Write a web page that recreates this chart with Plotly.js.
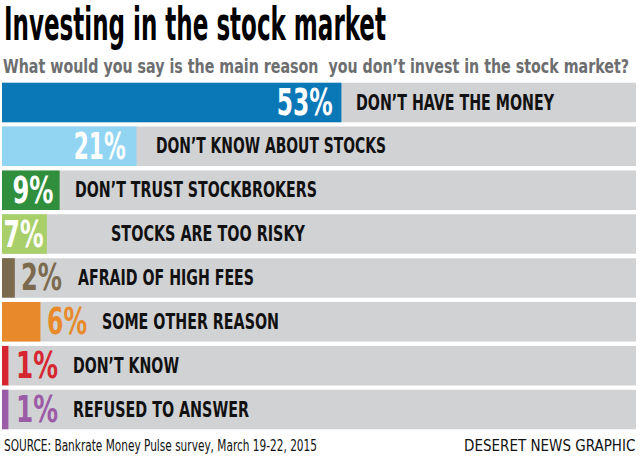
<!DOCTYPE html>
<html>
<head>
<meta charset="utf-8">
<script src="https://cdn.plot.ly/plotly-3.0.1.min.js"></script>
<style>
html,body{margin:0;padding:0;background:#fff;}
#chart{width:640px;height:457px;}
</style>
</head>
<body>
<div id="chart"></div>
<script>
// ---- data ----
const categories = [
  "DON’T HAVE THE MONEY",
  "DON’T KNOW ABOUT STOCKS",
  "DON’T TRUST STOCKBROKERS",
  "STOCKS ARE TOO RISKY",
  "AFRAID OF HIGH FEES",
  "SOME OTHER REASON",
  "DON’T KNOW",
  "REFUSED TO ANSWER"
];
const percents = [53, 21, 9, 7, 2, 6, 1, 1];
const totals = [100, 100, 100, 100, 100, 100, 100, 100];

// ---- styles / positions (not data) ----
const barColors = ["#0a77b7", "#92d5f3", "#2f8f3d", "#a9cf6a", "#7b6a4d", "#e88a2b", "#d6262f", "#9b5ba6"];
const pctColors = ["#ffffff", "#ffffff", "#ffffff", "#ffffff", "#7b6a4d", "#e88a2b", "#d6262f", "#9b5ba6"];
const pctInside = [true, true, true, true, false, false, false, false];
const pctShift = [-6, -8, -4, -1, 4, 5, 6, 6];
const pctWidth = [56, 52, 41, 40, 41, 40, 42, 42];
const labelShift = [13, 18, 13, 62, 61, 60, 63, 63];
const labelWidth = [198, 230, 242, 194, 176, 177, 106, 176];
const COND = "DejaVu Sans Condensed, Liberation Sans Narrow, Arial Narrow, sans-serif";

const bg = {
  type: "bar", orientation: "h",
  x: totals, y: categories,
  marker: {color: "#d1d2d4"},
  hoverinfo: "skip", showlegend: false
};
const fg = {
  type: "bar", orientation: "h",
  x: percents, y: categories,
  marker: {color: barColors},
  hoverinfo: "skip", showlegend: false
};

const annotations = [];
const fitWidths = [];

categories.forEach((c, i) => {
  annotations.push({
    x: percents[i], y: c, xref: "x", yref: "y",
    text: c, showarrow: false, xanchor: "left", yanchor: "middle", align: "left",
    xshift: labelShift[i], yshift: 0,
    font: {family: COND, size: 21, color: "#111111", weight: 700}
  });
  fitWidths.push(labelWidth[i]);
});

categories.forEach((c, i) => {
  annotations.push({
    x: percents[i], y: c, xref: "x", yref: "y",
    text: percents[i] + "%", showarrow: false,
    xanchor: pctInside[i] ? "right" : "left", align: pctInside[i] ? "right" : "left",
    yanchor: "middle", xshift: pctShift[i], yshift: 0,
    font: {family: COND, size: 37, color: pctColors[i], weight: 600}
  });
  fitWidths.push(pctWidth[i]);
});

annotations.push(
  {xref: "paper", yref: "paper", x: 0, y: 1, xshift: 0, yshift: 84, xanchor: "left", yanchor: "top", align: "left",
   text: "Investing in the stock market", showarrow: false,
   font: {family: COND, size: 46, color: "#000000", weight: 700}},
  {xref: "paper", yref: "paper", x: 0, y: 1, xshift: -1, yshift: 27, xanchor: "left", yanchor: "top", align: "left",
   text: "What would you say is the main reason  you don’t invest in the stock market?", showarrow: false,
   font: {family: COND, size: 20, color: "#6d6e70", weight: 700}},
  {xref: "paper", yref: "paper", x: 0, y: 0, xshift: 0, yshift: -2, xanchor: "left", yanchor: "top", align: "left",
   text: "SOURCE: Bankrate Money Pulse survey, March 19-22, 2015", showarrow: false,
   font: {family: COND, size: 15, color: "#111111"}},
  {xref: "paper", yref: "paper", x: 1, y: 0, xshift: 1, yshift: -2, xanchor: "right", yanchor: "top", align: "right",
   text: "DESERET NEWS GRAPHIC", showarrow: false,
   font: {family: COND, size: 15, color: "#111111"}}
);
fitWidths.push(382, 626, 313, 0);

const layout = {
  width: 640, height: 457,
  margin: {l: 2, r: 4, t: 79, b: 24, pad: 0},
  paper_bgcolor: "#ffffff", plot_bgcolor: "#ffffff",
  barmode: "overlay", bargap: 0.1,
  xaxis: {range: [0, 99], visible: false, fixedrange: true},
  yaxis: {autorange: "reversed", visible: false, fixedrange: true},
  annotations: annotations,
  showlegend: false
};

Plotly.newPlot("chart", [bg, fg], layout, {displayModeBar: false, staticPlot: true}).then(gd => {
  gd.querySelectorAll(".annotation").forEach((g, k) => {
    const idx = g.hasAttribute("data-index") ? +g.getAttribute("data-index") : k;
    const w = fitWidths[idx];
    const t = g.querySelector(".annotation-text");
    if (t && w) {
      t.setAttribute("textLength", w);
      t.setAttribute("lengthAdjust", "spacingAndGlyphs");
      // keep the annotation's background box consistent with the fitted text
      const rect = g.querySelector("rect.bg");
      if (rect) {
        const anchorRight = t.getAttribute("text-anchor") === "end";
        const oldW = +rect.getAttribute("width");
        const newW = w + 4;
        if (anchorRight) {
          const x0 = +(rect.getAttribute("x") || 0);
          rect.setAttribute("x", x0 + oldW - newW);
        }
        rect.setAttribute("width", newW);
      }
    }
  });
});
</script>
</body>
</html>
